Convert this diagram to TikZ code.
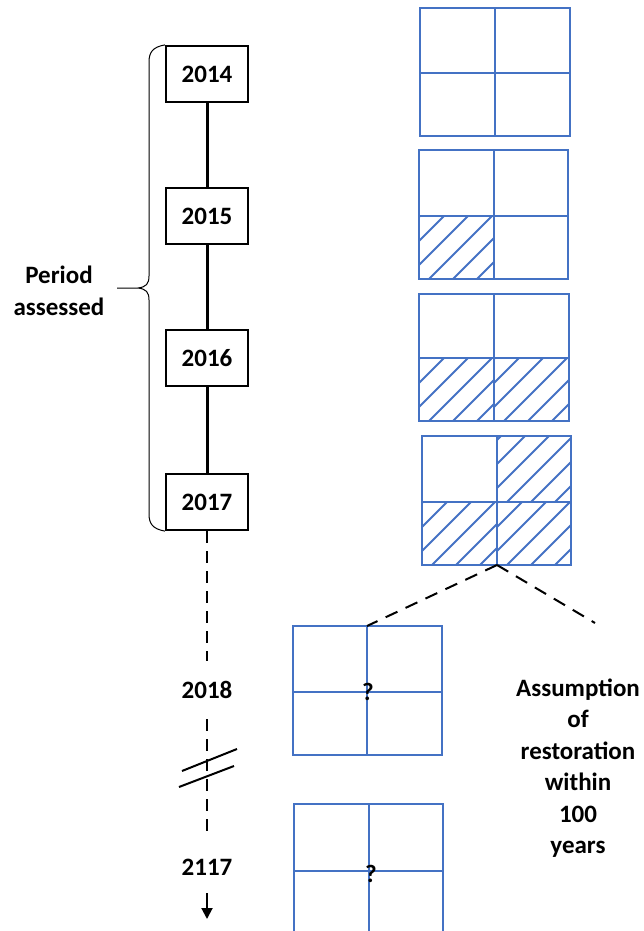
\documentclass[tikz,border=0pt]{standalone}
\usepackage{fontspec}
\setmainfont{Carlito}
\usetikzlibrary{arrows.meta}
\definecolor{gridblue}{HTML}{4472C4}
\newcommand\drawgrid[6]{% x0 y0 x1 y1 xm ym
  \draw[gridline] (#1,#2) rectangle (#3,#4);
  \draw[gridline] (#5,#2) -- (#5,#4);
  \draw[gridline] (#1,#6) -- (#3,#6);}
\newcommand\hatchcell[4]{% x0 y0 x1 y1
  \begin{scope}
    \clip (#1,#2) rectangle (#3,#4);
    \foreach \k in {0,...,11} {\draw[hatchline] ({#1-110+24*\k},#4) -- ++(200,-200);}
  \end{scope}}
\begin{document}
\begin{tikzpicture}[x=1pt,y=-1pt,
  lbl/.style={font=\fontsize{25}{31.5}\selectfont\bfseries},
  yearbox/.style={draw,line width=2.2pt,minimum width=82pt,minimum height=56pt,inner sep=0pt,lbl},
  yeartext/.style={inner sep=0pt,lbl},
  axis/.style={line width=3pt},
  dashaxis/.style={line width=2.4pt,dash pattern=on 12pt off 8pt},
  gridline/.style={gridblue,line width=2.6pt},
  hatchline/.style={gridblue,line width=1.8pt},
  zoomline/.style={line width=2pt,dash pattern=on 13pt off 9pt},
  brk/.style={line width=2pt}]
\useasboundingbox (0,0) rectangle (643,931);
% year boxes
\node[yearbox] (y14) at (207,74) {2014};
\node[yearbox] (y15) at (207,216) {2015};
\node[yearbox] (y16) at (207,358) {2016};
\node[yearbox] (y17) at (207,502) {2017};
\draw[axis] (y14) -- (y15);
\draw[axis] (y15) -- (y16);
\draw[axis] (y16) -- (y17);
% brace
\draw[line width=1pt] (y14.north west) .. controls (153,47) and (149,52) .. (149,62)
  -- (149,276) .. controls (149,284) and (146,287) .. (138,288) -- (117,288)
  (138,288) .. controls (146,289) and (149,292) .. (149,300)
  -- (149,514) .. controls (149,524) and (153,529) .. (y17.south west);
\node[lbl,align=center] (period) at (59,291) {Period\\assessed};
% future axis
\node[yeartext,minimum height=58pt] (y18) at (207,690) {2018};
\node[yeartext,minimum height=52pt] (y2117) at (207,867) {2117};
\coordinate (arrowend) at (207,919);
\draw[dashaxis] (y17) -- (y18);
\draw[dashaxis] (y18) -- ([yshift=9pt]y2117.north);
\draw[line width=2pt,-{Triangle[width=11pt,length=11pt]}] (y2117.south) -- (arrowend);
% break marks
\coordinate (b1a) at (182,771); \coordinate (b1b) at (237,749);
\coordinate (b2a) at (179,787); \coordinate (b2b) at (234,766);
\draw[brk] (b1a) -- (b1b);
\draw[brk] (b2a) -- (b2b);
% grids
\drawgrid{420}{8}{570}{136}{495}{73}
\hatchcell{419}{216}{494}{279}
\drawgrid{419}{150}{568}{279}{494}{216}
\hatchcell{419}{358}{494}{421}
\hatchcell{494}{358}{569}{421}
\drawgrid{419}{294}{569}{421}{494}{358}
\hatchcell{497}{436}{571}{502}
\hatchcell{422}{502}{497}{565}
\hatchcell{497}{502}{571}{565}
\drawgrid{422}{436}{571}{565}{497}{502}
\drawgrid{293}{626}{442}{755}{367}{692}
\drawgrid{294}{804}{443}{934}{369}{871}
\node[lbl] (q1) at (368,692) {?};
\node[lbl] (q2) at (371,874) {?};
% zoom lines
\coordinate (g4b) at (497,565);
\coordinate (g5t) at (367,626);
\coordinate (zr) at (595,623);
\draw[zoomline] (g4b) -- (g5t);
\draw[zoomline] (g4b) -- (zr);
\node[lbl,align=center] (assump) at (578,768) {Assumption\\of\\restoration\\within\\100\\years};
\end{tikzpicture}
\end{document}
